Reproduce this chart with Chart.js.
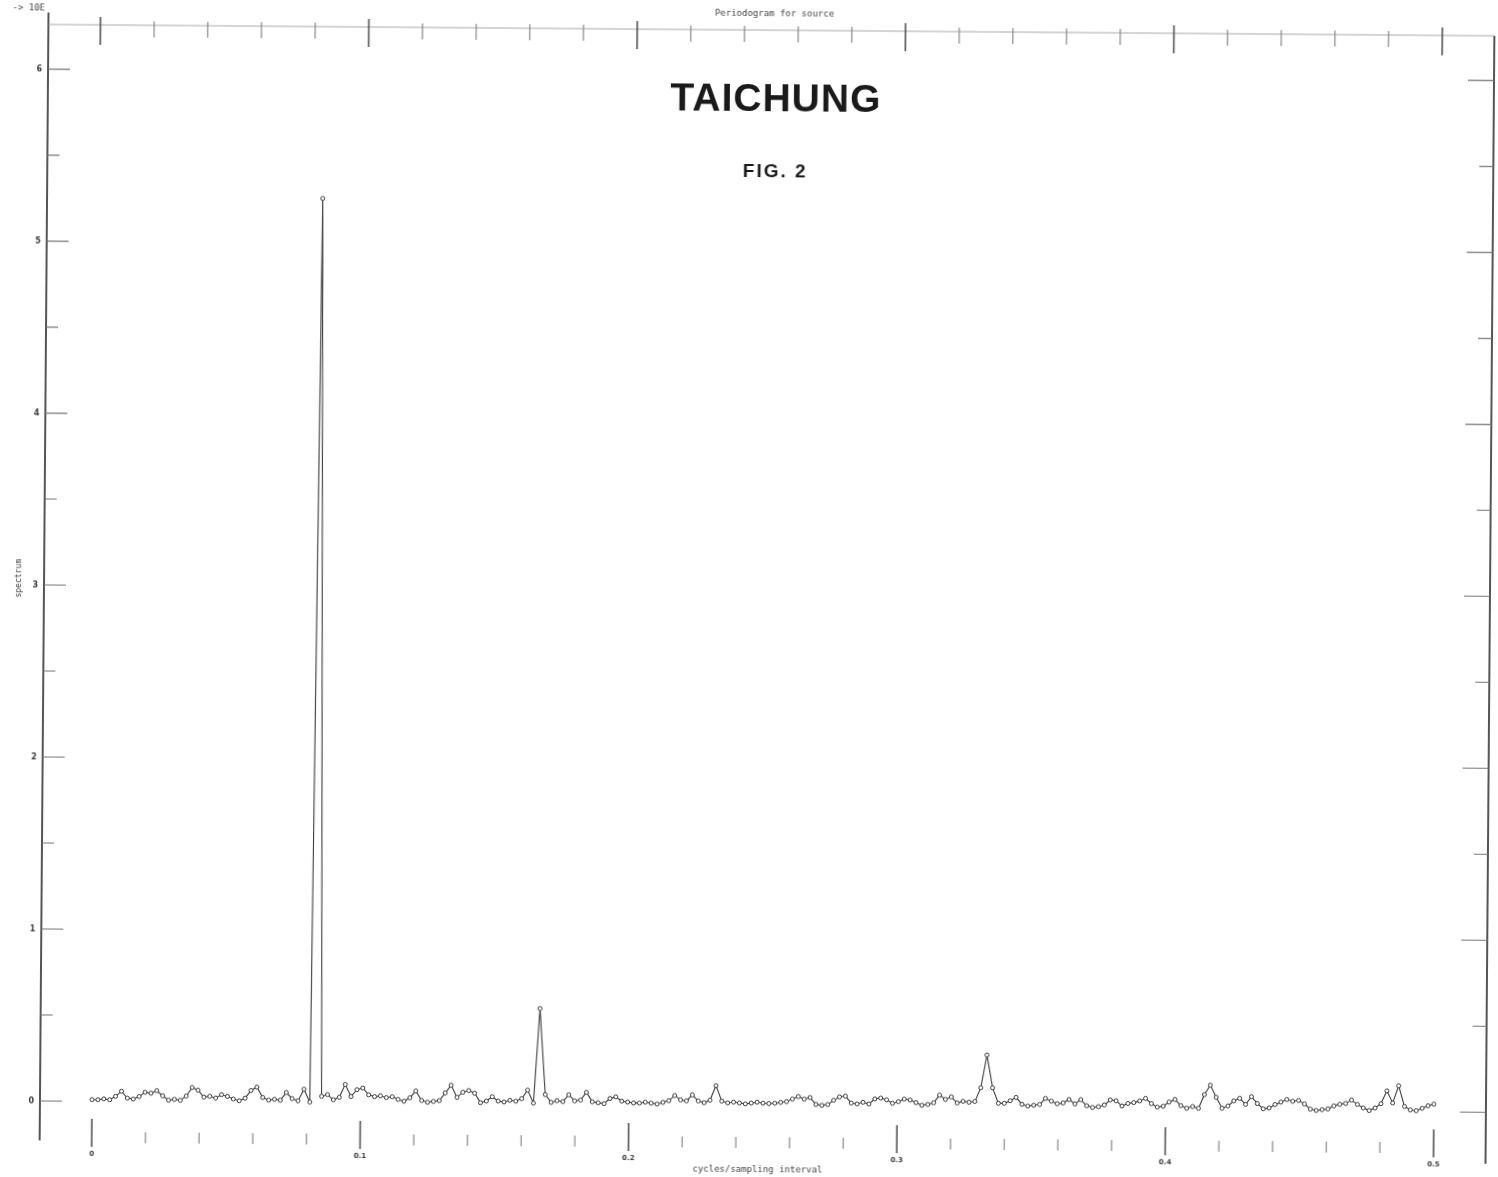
<!DOCTYPE html>
<html>
<head>
<meta charset="utf-8">
<title>TAICHUNG - Periodogram</title>
<script src="https://cdn.jsdelivr.net/npm/chart.js@4.4.1/dist/chart.umd.min.js"></script>
<style>
    html, body { margin: 0; padding: 0; background: #fff; }
    #wrap { width: 1498px; height: 1177px; overflow: hidden; }
    /* the plotter sheet sits a little crooked on the page */
    #periodogramChart { transform: rotate(0.45deg); transform-origin: 50% 50%; }
</style>
</head>
<body>
<div id="wrap"><canvas id="periodogramChart" width="1498" height="1177"></canvas></div>
<script>
// ==========================================================
// 1. DATA
// ==========================================================

// record length (months); harmonic j sits at frequency j / sampleLength
const sampleLength = 456;

// periodogram ordinates, harmonics 0..228
const periodogram = [
    0.010, 0.010, 0.015, 0.010, 0.030, 0.060, 0.020, 0.015, 0.030, 0.055,
    0.050, 0.065, 0.035, 0.010, 0.015, 0.010, 0.035, 0.085, 0.070, 0.030,
    0.035, 0.025, 0.045, 0.035, 0.020, 0.010, 0.025, 0.070, 0.090, 0.030,
    0.015, 0.020, 0.015, 0.060, 0.025, 0.012, 0.080, 0.006, 5.260, 0.040,
    0.050, 0.020, 0.035, 0.110, 0.040, 0.080, 0.090, 0.050, 0.040, 0.045,
    0.035, 0.040, 0.025, 0.015, 0.035, 0.075, 0.020, 0.010, 0.015, 0.020,
    0.065, 0.110, 0.040, 0.070, 0.080, 0.065, 0.010, 0.020, 0.045, 0.020,
    0.015, 0.025, 0.020, 0.035, 0.085, 0.010, 0.560, 0.060, 0.015, 0.025,
    0.020, 0.060, 0.025, 0.030, 0.075, 0.020, 0.015, 0.010, 0.040, 0.050,
    0.025, 0.020, 0.015, 0.015, 0.020, 0.015, 0.010, 0.020, 0.030, 0.060,
    0.035, 0.030, 0.065, 0.030, 0.020, 0.035, 0.120, 0.030, 0.020, 0.025,
    0.020, 0.015, 0.020, 0.025, 0.020, 0.018, 0.020, 0.025, 0.030, 0.045,
    0.060, 0.045, 0.055, 0.015, 0.010, 0.015, 0.040, 0.060, 0.065, 0.025,
    0.020, 0.030, 0.020, 0.050, 0.055, 0.045, 0.025, 0.035, 0.050, 0.045,
    0.030, 0.015, 0.020, 0.030, 0.075, 0.050, 0.065, 0.030, 0.040, 0.035,
    0.040, 0.120, 0.310, 0.120, 0.030, 0.030, 0.045, 0.065, 0.025, 0.015,
    0.020, 0.025, 0.060, 0.045, 0.030, 0.035, 0.055, 0.030, 0.055, 0.020,
    0.010, 0.015, 0.025, 0.055, 0.050, 0.020, 0.035, 0.040, 0.050, 0.065,
    0.035, 0.015, 0.020, 0.045, 0.060, 0.025, 0.010, 0.020, 0.010, 0.090,
    0.145, 0.075, 0.012, 0.025, 0.055, 0.070, 0.035, 0.080, 0.040, 0.010,
    0.015, 0.035, 0.050, 0.065, 0.055, 0.060, 0.040, 0.010, 0.003, 0.008,
    0.012, 0.030, 0.040, 0.045, 0.065, 0.040, 0.020, 0.005, 0.020, 0.045,
    0.120, 0.050, 0.150, 0.030, 0.010, 0.006, 0.020, 0.035, 0.045
];

// axis ticks
const freqMajorTicks = [0, 0.1, 0.2, 0.3, 0.4, 0.5];
const freqMajorLabels = ['0', '0.1', '0.2', '0.3', '0.4', '0.5'];
const freqMinorTicks = [0.02, 0.04, 0.06, 0.08, 0.12, 0.14, 0.16, 0.18, 0.22, 0.24, 0.26, 0.28,
                        0.32, 0.34, 0.36, 0.38, 0.42, 0.44, 0.46, 0.48];
const powerTicks = [0, 1, 2, 3, 4, 5, 6];
const powerLabels = ['0', '1', '2', '3', '4', '5', '6'];
const powerHalfTicks = [0.5, 1.5, 2.5, 3.5, 4.5, 5.5];

// ==========================================================
// 2. PLOTTER FRAME (drawn through the chart's own scales)
// ==========================================================

const plotterFrame = {
    id: 'plotterFrame',
    afterDraw(chart) {
        const ctx = chart.ctx;
        const xs = chart.scales.x;
        const ys = chart.scales.y;
        const area = chart.chartArea;
        const ink = '#3a3a3a';

        ctx.save();

        // left axis, running past the frame
        ctx.strokeStyle = '#555';
        ctx.lineWidth = 2;
        ctx.beginPath();
        ctx.moveTo(area.left, 18);
        ctx.lineTo(area.left, area.bottom - 4);
        ctx.stroke();

        // right axis
        ctx.beginPath();
        ctx.moveTo(area.right, area.top);
        ctx.lineTo(area.right, area.bottom + 8);
        ctx.stroke();

        // top edge
        ctx.strokeStyle = '#aaa';
        ctx.lineWidth = 1;
        ctx.beginPath();
        ctx.moveTo(area.left, area.top);
        ctx.lineTo(area.right, area.top);
        ctx.stroke();

        // power ticks: inward on both sides, labels on the left
        ctx.strokeStyle = '#777';
        ctx.lineWidth = 1.2;
        powerTicks.forEach(v => {
            const y = ys.getPixelForValue(v);
            ctx.beginPath();
            ctx.moveTo(area.left, y);
            ctx.lineTo(area.left + 22, y);
            ctx.moveTo(area.right, y);
            ctx.lineTo(area.right - 26, y);
            ctx.stroke();
        });
        powerHalfTicks.forEach(v => {
            const y = ys.getPixelForValue(v);
            ctx.beginPath();
            ctx.moveTo(area.left, y);
            ctx.lineTo(area.left + 12, y);
            ctx.moveTo(area.right, y);
            ctx.lineTo(area.right - 14, y);
            ctx.stroke();
        });
        ctx.fillStyle = ink;
        ctx.font = 'bold 8px "DejaVu Sans"';
        ctx.textAlign = 'right';
        ctx.textBaseline = 'middle';
        powerTicks.forEach((v, i) => {
            ctx.fillText(powerLabels[i], area.left - 6, ys.getPixelForValue(v));
        });

        // frequency ticks along the bottom and the top
        ctx.strokeStyle = '#555';
        freqMajorTicks.forEach(f => {
            const x = xs.getPixelForValue(f);
            ctx.lineWidth = 1.6;
            ctx.beginPath();
            ctx.moveTo(x, 1124);
            ctx.lineTo(x, 1152);
            ctx.moveTo(x, 22);
            ctx.lineTo(x, 50);
            ctx.stroke();
        });
        ctx.strokeStyle = '#888';
        freqMinorTicks.forEach(f => {
            const x = xs.getPixelForValue(f);
            ctx.lineWidth = 1.2;
            ctx.beginPath();
            ctx.moveTo(x, 1137);
            ctx.lineTo(x, 1148);
            ctx.moveTo(x, 26);
            ctx.lineTo(x, 42);
            ctx.stroke();
        });
        ctx.textAlign = 'center';
        ctx.textBaseline = 'middle';
        ctx.font = 'bold 7px "DejaVu Sans"';
        freqMajorTicks.forEach((f, i) => {
            ctx.fillText(freqMajorLabels[i], xs.getPixelForValue(f), 1159);
        });

        // plotter captions
        ctx.fillStyle = '#444';
        ctx.font = '9px "DejaVu Sans Mono"';
        ctx.fillText('Periodogram for source', 770, 14);
        ctx.fillText('cycles/sampling interval', 762, 1170);
        ctx.textAlign = 'left';
        ctx.fillText('-> 10E', 8, 14);
        ctx.save();
        ctx.translate(19, 584);
        ctx.rotate(-Math.PI / 2);
        ctx.textAlign = 'center';
        ctx.font = '8px "DejaVu Sans Mono"';
        ctx.fillText('spectrum', 0, 0);
        ctx.restore();

        // station name and figure number
        ctx.fillStyle = '#1a1a1a';
        ctx.textAlign = 'center';
        ctx.textBaseline = 'alphabetic';
        ctx.font = 'bold 39px "Liberation Sans"';
        ctx.letterSpacing = '1px';
        ctx.fillText('TAICHUNG', 772, 111);
        ctx.font = 'bold 19px "Liberation Sans"';
        ctx.letterSpacing = '2px';
        ctx.fillText('FIG. 2', 772, 177);
        ctx.letterSpacing = '0px';

        ctx.restore();
    }
};

// ==========================================================
// 3. CHART
// ==========================================================

function renderPeriodogram() {
    const points = periodogram.map((p, j) => ({ x: j / sampleLength, y: p }));
    const ctx = document.getElementById('periodogramChart').getContext('2d');

    new Chart(ctx, {
        type: 'line',
        data: {
            datasets: [{
                data: points,
                borderColor: '#3c3c3c',
                borderWidth: 1.1,
                pointRadius: 2,
                pointBorderWidth: 1,
                pointBorderColor: '#3c3c3c',
                pointBackgroundColor: '#fff',
                tension: 0,
                fill: false
            }]
        },
        options: {
            responsive: false,
            animation: false,
            layout: { padding: { left: 44, right: 8, top: 30, bottom: 27 } },
            plugins: {
                legend: { display: false },
                tooltip: { enabled: false }
            },
            scales: {
                x: { type: 'linear', min: -0.0194, max: 0.5194, display: false },
                y: { type: 'linear', min: -0.253, max: 6.259, display: false }
            }
        },
        plugins: [plotterFrame]
    });
}

document.addEventListener('DOMContentLoaded', renderPeriodogram);
</script>
</body>
</html>
